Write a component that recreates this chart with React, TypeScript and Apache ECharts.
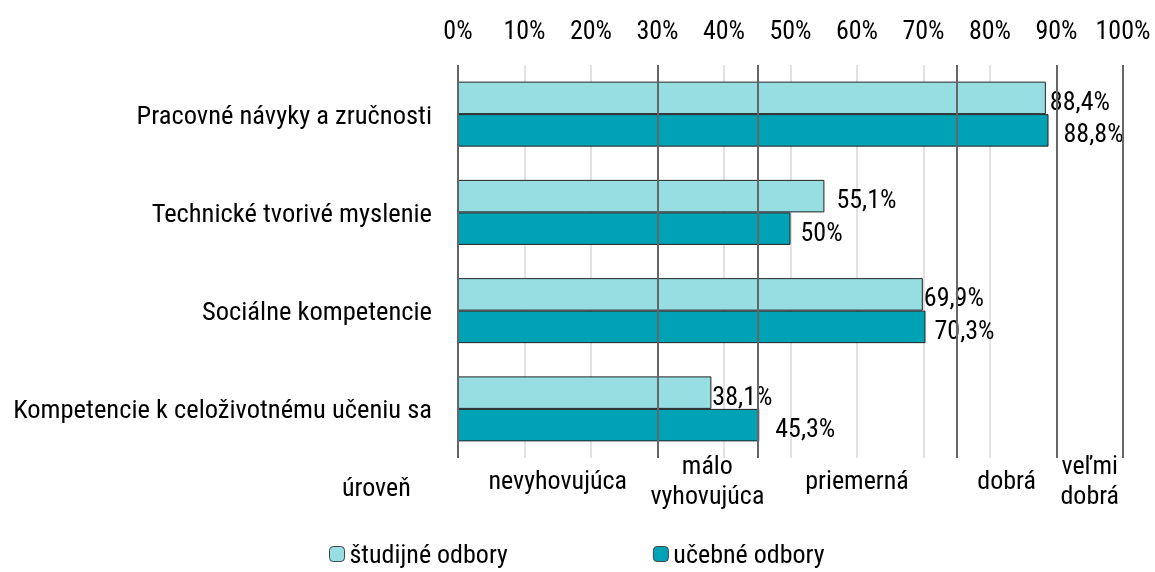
import React, { useEffect, useRef } from "react";
import * as echarts from "echarts";

const categories = [
  "Pracovné návyky a zručnosti",
  "Technické tvorivé myslenie",
  "Sociálne kompetencie",
  "Kompetencie k celoživotnému učeniu sa",
];
const studijne = [88.4, 55.1, 69.9, 38.1];
const ucebne = [88.8, 50, 70.3, 45.3];
const levelBounds = [0, 30, 45, 75, 90, 100];
const levelCenters = [15, 37.5, 60, 82.5, 95];
const levelNames = ["nevyhovujúca", "málo\nvyhovujúca", "priemerná", "dobrá", "veľmi\ndobrá"];
// label gaps (px) as placed in the original
const studijneLabelGap = [4, 12, 1, 1];
const ucebneLabelGap = [15, 10, 9, 16];

const FONT = "'Roboto Condensed', 'Liberation Sans Narrow', 'DejaVu Sans Condensed', Roboto, sans-serif";
const FS = 26;

const fmt = (v: number) => String(v).replace(".", ",") + "%";

export default function App() {
  const ref = useRef<HTMLDivElement>(null);
  useEffect(() => {
    if (!ref.current) return;
    const chart = echarts.init(ref.current, null, { renderer: "svg" });
    const labelBase = {
      show: true,
      position: "right",
      formatter: (p: any) => fmt(p.value),
      fontSize: FS,
      color: "#000",
      fontFamily: FONT,
      offset: [0, 3],
    };
    chart.setOption({
      animation: false,
      textStyle: { fontFamily: FONT, color: "#000" },
      grid: { left: 458, right: 32, top: 65, bottom: 114, containLabel: false },
      legend: {
        left: 329,
        top: 541,
        padding: 0,
        itemWidth: 15,
        itemHeight: 15,
        itemGap: 145,
        textStyle: { fontFamily: FONT, fontSize: FS, lineHeight: 26, color: "#000" },
        data: [
          { name: "študijné odbory", itemStyle: { color: "#97DEE3", borderColor: "#444", borderWidth: 1 } },
          { name: "učebné odbory", itemStyle: { color: "#00A3B5", borderColor: "#444", borderWidth: 1 } },
        ],
      },
      xAxis: [
        {
          type: "value",
          position: "top",
          min: 0,
          max: 100,
          interval: 10,
          axisLine: { show: false },
          axisTick: { show: false },
          axisLabel: { formatter: (v: number) => v + "%", fontSize: FS, color: "#000", margin: 22, fontFamily: FONT },
          splitLine: { show: true, lineStyle: { color: "#d9d9d9", width: 1.5 } },
        },
        {
          type: "value",
          position: "bottom",
          min: 0,
          max: 100,
          axisLine: { show: false },
          axisTick: { show: false },
          splitLine: { show: false },
          axisLabel: {
            customValues: levelCenters,
            formatter: (v: number) => levelNames[levelCenters.indexOf(v)] ?? "",
            fontSize: FS,
            color: "#000",
            margin: 22,
            verticalAlign: "middle",
            lineHeight: 30,
            fontFamily: FONT,
          },
        },
      ],
      yAxis: {
        type: "category",
        data: categories,
        inverse: true,
        axisLine: { show: false },
        axisTick: { show: false },
        axisLabel: { fontSize: 26.5, color: "#000", margin: 26, fontFamily: FONT },
      },
      graphic: [
        { type: "text", left: 342, top: 474, style: { text: "úroveň", font: `${FS}px ${FONT}`, fill: "#000" } },
      ],
      series: [
        {
          name: "študijné odbory",
          type: "bar",
          data: studijne.map((v, i) => ({ value: v, label: { distance: studijneLabelGap[i] } })),
          barWidth: 32.5,
          barGap: "0%",
          itemStyle: { color: "#97DEE3", borderColor: "#222", borderWidth: 1 },
          label: labelBase,
          markLine: {
            silent: true,
            symbol: "none",
            label: { show: false },
            lineStyle: { color: "#666", width: 2, type: "solid" },
            data: levelBounds.map((b) => ({ xAxis: b })),
          },
        },
        {
          name: "učebné odbory",
          type: "bar",
          data: ucebne.map((v, i) => ({ value: v, label: { distance: ucebneLabelGap[i] } })),
          barWidth: 32.5,
          barGap: "0%",
          itemStyle: { color: "#00A3B5", borderColor: "#222", borderWidth: 1 },
          label: labelBase,
        },
      ],
    });
    return () => chart.dispose();
  }, []);
  return <div ref={ref} style={{ position: "fixed", left: 0, top: 0, width: 1155, height: 572 }} />;
}
